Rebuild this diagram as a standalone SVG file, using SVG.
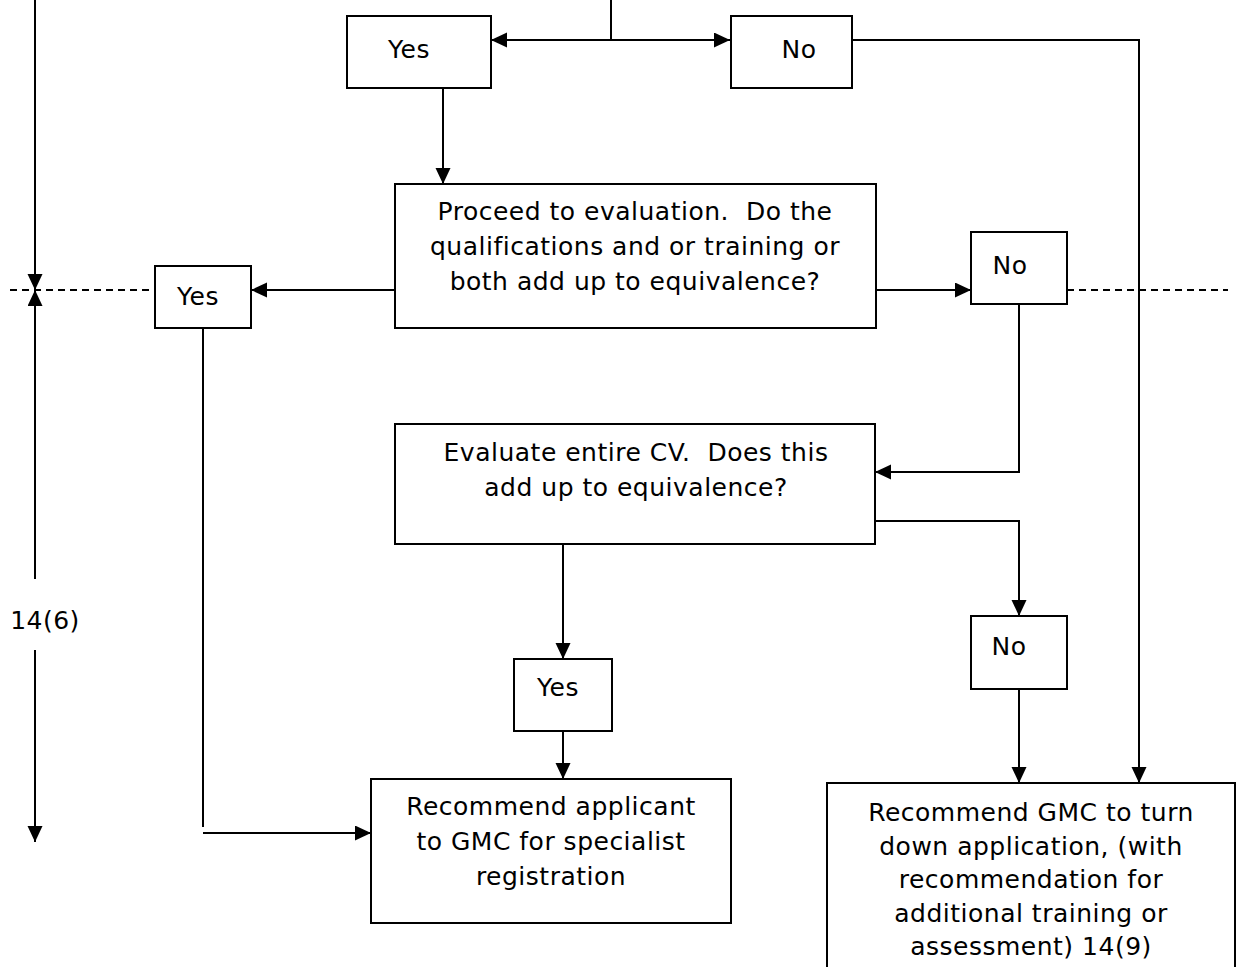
<svg xmlns="http://www.w3.org/2000/svg" width="1239" height="967" viewBox="0 0 1239 967">
<style>
.box{fill:#fff;stroke:#000;stroke-width:2}
.t{font-family:"DejaVu Sans",Verdana,sans-serif;font-size:25px;letter-spacing:0.5px;fill:#000;text-anchor:middle;white-space:pre}
.c{fill:none;stroke:#000;stroke-width:2}
.d{fill:none;stroke:#000;stroke-width:2;stroke-dasharray:7 5}
</style>
<defs>
<marker id="ah" markerUnits="userSpaceOnUse" markerWidth="17" markerHeight="16" refX="16" refY="7.5" orient="auto">
<path d="M0,0 L16,7.5 L0,15 Z" fill="#000"/>
</marker>
</defs>
<rect width="1239" height="967" fill="#fff"/>
<g id="connectors">
<path class="c" d="M611,0 V40 H491" marker-end="url(#ah)"/>
<path class="c" d="M611,40 H730" marker-end="url(#ah)"/>
<path class="c" d="M852,40 H1139 V783" marker-end="url(#ah)"/>
<path class="c" d="M443,88 V184" marker-end="url(#ah)"/>
<path class="c" d="M395,290 H251" marker-end="url(#ah)"/>
<path class="c" d="M876,290 H971" marker-end="url(#ah)"/>
<path class="d" d="M10,290 H155 M1067,290 H1228"/>
<path class="c" d="M35,0 V290" marker-end="url(#ah)"/>
<path class="c" d="M35,579 V290" marker-end="url(#ah)"/>
<path class="c" d="M35,650 V842" marker-end="url(#ah)"/>
<path class="c" d="M1019,304 V472 H875" marker-end="url(#ah)"/>
<path class="c" d="M875,521 H1019 V616" marker-end="url(#ah)"/>
<path class="c" d="M563,544 V659" marker-end="url(#ah)"/>
<path class="c" d="M563,731 V779" marker-end="url(#ah)"/>
<path class="c" d="M1019,689 V783" marker-end="url(#ah)"/>
<path class="c" d="M203,328 V827"/>
<path class="c" d="M203,833 H371" marker-end="url(#ah)"/>
</g>
<g id="yes-top">
<rect class="box" x="347" y="16" width="144" height="72"/>
<text class="t" x="409" y="58">Yes</text>
</g>
<g id="no-top">
<rect class="box" x="731" y="16" width="121" height="72"/>
<text class="t" x="799" y="58">No</text>
</g>
<g id="proceed">
<rect class="box" x="395" y="184" width="481" height="144"/>
<text class="t" x="635" y="220" xml:space="preserve">Proceed to evaluation.  Do the</text>
<text class="t" x="635" y="255">qualifications and or training or</text>
<text class="t" x="635" y="290">both add up to equivalence?</text>
</g>
<g id="yes-mid">
<rect class="box" x="155" y="266" width="96" height="62"/>
<text class="t" x="198" y="305">Yes</text>
</g>
<g id="no-mid">
<rect class="box" x="971" y="232" width="96" height="72"/>
<text class="t" x="1010" y="274">No</text>
</g>
<g id="evaluate">
<rect class="box" x="395" y="424" width="480" height="120"/>
<text class="t" x="636" y="461" xml:space="preserve">Evaluate entire CV.  Does this</text>
<text class="t" x="636" y="496">add up to equivalence?</text>
</g>
<g id="yes-bottom">
<rect class="box" x="514" y="659" width="98" height="72"/>
<text class="t" x="558" y="696">Yes</text>
</g>
<g id="no-bottom">
<rect class="box" x="971" y="616" width="96" height="73"/>
<text class="t" x="1009" y="655">No</text>
</g>
<g id="recommend-applicant">
<rect class="box" x="371" y="779" width="360" height="144"/>
<text class="t" x="551" y="815">Recommend applicant</text>
<text class="t" x="551" y="850">to GMC for specialist</text>
<text class="t" x="551" y="885">registration</text>
</g>
<g id="recommend-turn-down">
<rect class="box" x="827" y="783" width="408" height="200"/>
<text class="t" x="1031" y="821">Recommend GMC to turn</text>
<text class="t" x="1031" y="855">down application, (with</text>
<text class="t" x="1031" y="888">recommendation for</text>
<text class="t" x="1031" y="922">additional training or</text>
<text class="t" x="1031" y="955">assessment) 14(9)</text>
</g>
<g id="label-14-6">
<text class="t" x="45" y="629">14(6)</text>
</g>
</svg>
